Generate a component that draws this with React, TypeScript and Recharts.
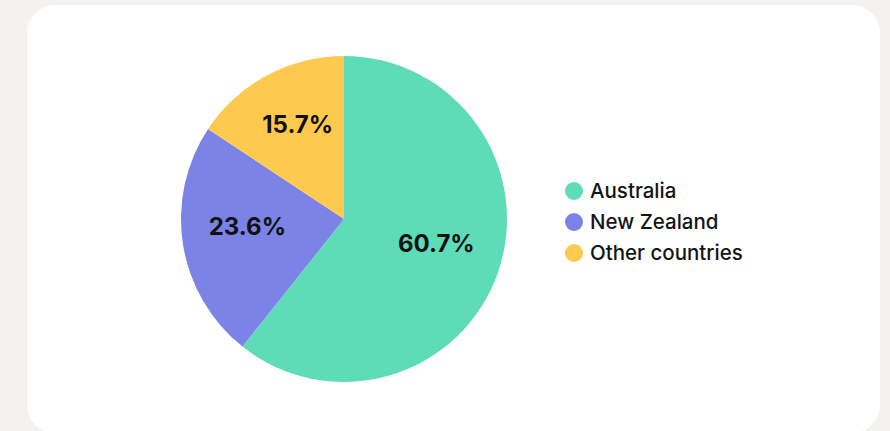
import React from "react";
import { PieChart, Pie, Cell, Legend } from "recharts";

const categories = ["Australia", "New Zealand", "Other countries"];
const shares = [60.7, 23.6, 15.7];
const colors = ["#5ddcb7", "#7b83e6", "#fdca4f"];

const data = categories.map((name, i) => ({ name, value: shares[i] }));

const RAD = Math.PI / 180;

const renderLabel = (props: any) => {
  const { cx, cy, midAngle, outerRadius, value } = props;
  const r = outerRadius * 0.6;
  const x = cx + r * Math.cos(-midAngle * RAD);
  const y = cy + r * Math.sin(-midAngle * RAD) - 8;
  return (
    <text
      x={x}
      y={y}
      textAnchor="middle"
      dominantBaseline="central"
      fill="#111111"
      fontFamily="Inter, sans-serif"
      fontWeight={700}
      fontSize={24}
    >
      {value.toFixed(1)}%
    </text>
  );
};

const renderLegend = (props: any) => {
  const { payload } = props;
  return (
    <div style={{ fontFamily: "Inter, sans-serif" }}>
      {payload.map((entry: any, i: number) => (
        <div
          key={i}
          style={{ display: "flex", alignItems: "center", height: 31 }}
        >
          <span
            style={{
              width: 18,
              height: 18,
              borderRadius: 9,
              background: entry.color,
              display: "inline-block",
              marginRight: 7,
            }}
          />
          <span style={{ fontSize: 20.5, color: "#141414", fontWeight: 500 }}>
            {entry.value}
          </span>
        </div>
      ))}
    </div>
  );
};

export default function App() {
  return (
    <div
      style={{
        position: "fixed",
        left: 0,
        top: 0,
        width: 890,
        height: 431,
        background: "#f3f2f0",
        overflow: "hidden",
      }}
    >
      <div
        style={{
          position: "absolute",
          left: 27,
          top: 5,
          width: 853,
          height: 428,
          background: "#ffffff",
          borderRadius: 28,
        }}
      />
      <div style={{ position: "absolute", left: 0, top: 0 }}>
        <PieChart width={890} height={431}>
          <Pie
            data={data}
            dataKey="value"
            nameKey="name"
            cx={339}
            cy={214}
            outerRadius={163}
            startAngle={90}
            endAngle={-270}
            stroke="none"
            label={renderLabel}
            labelLine={false}
            isAnimationActive={false}
          >
            {data.map((d, i) => (
              <Cell key={d.name} fill={colors[i]} />
            ))}
          </Pie>
          <Legend
            content={renderLegend}
            layout="vertical"
            wrapperStyle={{ left: 565, top: 175, width: 260 }}
          />
        </PieChart>
      </div>
    </div>
  );
}
